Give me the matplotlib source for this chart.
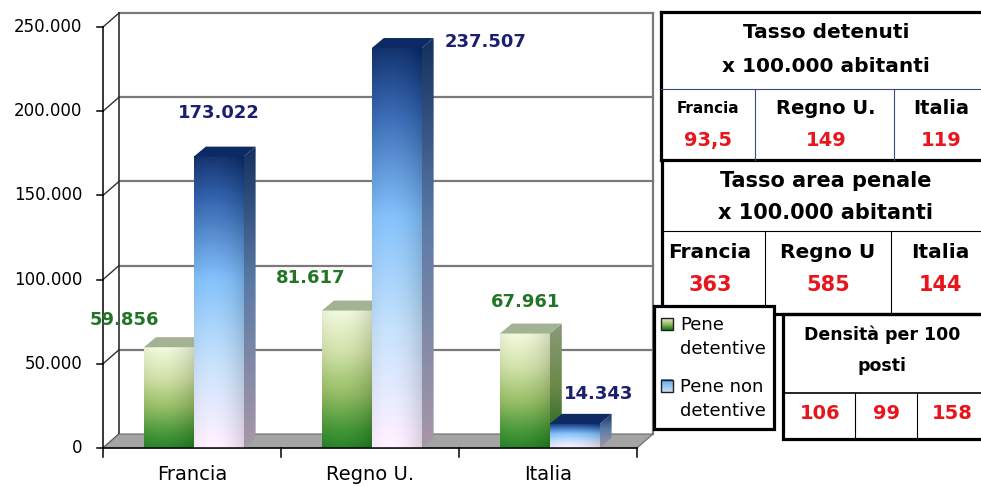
import numpy as np
import matplotlib
matplotlib.use('Agg')
import matplotlib.pyplot as plt
from matplotlib.patches import Polygon, Rectangle
from matplotlib.colors import LinearSegmentedColormap

# ---------------- data ----------------
categories = ['Francia', 'Regno U.', 'Italia']
pene_detentive = [59856, 81617, 67961]
pene_non_detentive = [173022, 237507, 14343]
y_ticks = [0, 50000, 100000, 150000, 200000, 250000]
y_tick_labels = ['0', '50.000', '100.000', '150.000', '200.000', '250.000']
series_names = ['Pene\ndetentive', 'Pene non\ndetentive']

tasso_detenuti_title = ['Tasso detenuti', 'x 100.000 abitanti']
tasso_detenuti_paesi = ['Francia', 'Regno U.', 'Italia']
tasso_detenuti_valori = ['93,5', '149', '119']
tasso_area_title = ['Tasso area penale', 'x 100.000 abitanti']
tasso_area_paesi = ['Francia', 'Regno U', 'Italia']
tasso_area_valori = ['363', '585', '144']
densita_title = ['Densità per 100', 'posti']
densita_valori = ['106', '99', '158']

# label offsets (pixels) relative to the front-top centre of each bar
green_label_off = [(-44, 27), (-36, 33), (1, 32)]
blue_label_off = [(0, 44), (89, 6), (24, 30)]


def fmt(v):
    return f'{v:,}'.replace(',', '.')


W, H = 981, 486
fig = plt.figure(figsize=(W / 100, H / 100), dpi=100)

L, R, B, T = 103, 637, 448, 27
ax = fig.add_axes([L / W, (H - B) / H, (R - L) / W, (B - T) / H])
XMAX, YMAX = 3, 250000
ax.set_xlim(0, XMAX)
ax.set_ylim(0, YMAX)
ax.axis('off')
px_x = XMAX / (R - L)
px_y = YMAX / (B - T)
wdx, wdy = 16 * px_x, 14 * px_y        # wall depth
bdx, bdy = 12 * px_x, 10 * px_y        # bar depth

# floor
ax.add_patch(Polygon([(0, 0), (XMAX, 0), (XMAX + wdx, wdy), (wdx, wdy)],
                     closed=True, fc='#a4a4a4', ec='#6a6a6a', lw=0.8,
                     clip_on=False, zorder=1))
# back wall gridlines and left wall connectors
for v in y_ticks[1:]:
    ax.plot([wdx, XMAX + wdx], [v + wdy] * 2, color='#7a7a7a', lw=1.6,
            clip_on=False, zorder=0.5)
for v in y_ticks:
    ax.plot([0, wdx], [v, v + wdy], color='#303030', lw=1.0,
            clip_on=False, zorder=0.6)
ax.plot([wdx, wdx], [wdy, YMAX + wdy], color='#303030', lw=1.2, clip_on=False, zorder=0.6)
ax.plot([XMAX + wdx, XMAX + wdx], [wdy, YMAX + wdy], color='#7a7a7a', lw=1.6,
        clip_on=False, zorder=0.5)
# front axes
ax.plot([0, 0], [0, YMAX], color='black', lw=1.1, clip_on=False, zorder=5)
ax.plot([0, XMAX], [0, 0], color='black', lw=1.1, clip_on=False, zorder=5)
for v, lab in zip(y_ticks, y_tick_labels):
    ax.plot([-6 * px_x, 0], [v, v], color='black', lw=1.1, clip_on=False, zorder=5)
    ax.annotate(lab, xy=(0, v), xytext=(-21, 0), textcoords='offset pixels',
                ha='right', va='center', fontsize=12, color='black')
for i in range(len(categories) + 1):
    ax.plot([i, i], [0, -9 * px_y], color='black', lw=1.1, clip_on=False, zorder=5)
for i, c in enumerate(categories):
    ax.annotate(c, xy=(i + 0.5, 0), xytext=(0, -26), textcoords='offset pixels',
                ha='center', va='center', fontsize=14, color='black')

green_front = LinearSegmentedColormap.from_list(
    'gf', [(0, '#e8f0d4'), (0.3, '#c8d8a0'), (0.6, '#8db45c'), (0.85, '#3f8f30'), (1, '#1f7a1f')])
green_side = LinearSegmentedColormap.from_list(
    'gs', [(0, '#8a9a78'), (0.5, '#6a8a48'), (1, '#1b5e1b')])
blue_front = LinearSegmentedColormap.from_list(
    'bf', [(0, '#0a2a66'), (0.15, '#2c5ca6'), (0.42, '#7ab8f2'), (0.7, '#bcd8f2'), (1, '#f8e8f8')])
blue_side = LinearSegmentedColormap.from_list(
    'bs', [(0, '#14305e'), (0.45, '#5a7aa6'), (1, '#a898a8')])


def draw_bar(x0, w, v, cf, cs, top_color, z):
    n = 256
    cols = np.linspace(0, 1, 40)
    shade = 1.0 - 0.10 * ((cols - 0.35) / 0.65) ** 2
    img = cf(np.linspace(0, 1, n))[:, None, :3] * shade[None, :, None]
    img = np.clip(img + 0.04 * (1 - ((cols - 0.35) / 0.65) ** 2)[None, :, None], 0, 1)
    ax.imshow(img, extent=(x0, x0 + w, 0, v), aspect='auto', origin='upper',
              interpolation='bilinear', zorder=z, clip_on=False)
    x1 = x0 + w
    side = Polygon([(x1, 0), (x1 + bdx, bdy), (x1 + bdx, v + bdy), (x1, v)],
                   closed=True, fc='none', ec='none', transform=ax.transData)
    ax.add_patch(side)
    simg = cs(np.linspace(0, 1, n))[:, None, :3]
    im = ax.imshow(simg, extent=(x1, x1 + bdx, 0, v + bdy), aspect='auto',
                   origin='upper', interpolation='bilinear', zorder=z)
    im.set_clip_path(side)
    ax.add_patch(Polygon([(x0, v), (x1, v), (x1 + bdx, v + bdy), (x0 + bdx, v + bdy)],
                         closed=True, fc=top_color, ec='none', zorder=z + 0.1,
                         clip_on=False))


bw = 0.28
for i in range(len(categories)):
    gx = i + 0.51 - bw
    draw_bar(gx, bw, pene_detentive[i], green_front, green_side, '#a4b294', 2 + i)
    draw_bar(i + 0.51, bw, pene_non_detentive[i], blue_front, blue_side, '#0d2a64', 2.5 + i)
    ax.annotate(fmt(pene_detentive[i]), xy=(gx + bw / 2, pene_detentive[i]),
                xytext=green_label_off[i], textcoords='offset pixels',
                ha='center', va='center', fontsize=13, fontweight='bold',
                color='#237526', zorder=10)
    ax.annotate(fmt(pene_non_detentive[i]), xy=(i + 0.51 + bw / 2, pene_non_detentive[i]),
                xytext=blue_label_off[i], textcoords='offset pixels',
                ha='center', va='center', fontsize=13, fontweight='bold',
                color='#1b1f70', zorder=10)

ax.set_xlim(0, XMAX)
ax.set_ylim(0, YMAX)

# ---------------- tables (pixel overlay) ----------------
ov = fig.add_axes([0, 0, 1, 1], zorder=3)
ov.set_xlim(0, W)
ov.set_ylim(H, 0)
ov.axis('off')
ov.patch.set_alpha(0)
THICK, THIN = 2.3, 0.8
RED = '#e8161c'


def hl(y, x0, x1, lw, c='black'):
    ov.plot([x0, x1], [y, y], color=c, lw=lw, solid_capstyle='projecting')


def vl(x, y0, y1, lw, c='black'):
    ov.plot([x, x], [y0, y1], color=c, lw=lw, solid_capstyle='projecting')


# table 1
hl(12, 661, 990, THICK)
vl(661, 12, 160, THICK)
hl(160, 661, 990, THICK)
hl(89, 661, 990, THIN, '#3b4a7a')
vl(755, 89, 160, THIN, '#3b4a7a')
vl(894, 89, 160, THIN, '#3b4a7a')
ov.text(826, 33, tasso_detenuti_title[0], ha='center', va='center', fontsize=14.5, fontweight='bold')
ov.text(826, 67, tasso_detenuti_title[1], ha='center', va='center', fontsize=14.5, fontweight='bold')
for xc, name, val, fs in zip([708, 826, 941], tasso_detenuti_paesi, tasso_detenuti_valori,
                             [11, 14, 14]):
    ov.text(xc, 108, name, ha='center', va='center', fontsize=fs, fontweight='bold')
    ov.text(xc, 140, val, ha='center', va='center', fontsize=14, fontweight='bold', color=RED)

# table 2
vl(662, 160, 313, THICK)
hl(313.5, 662, 990, THICK)
hl(231, 662, 990, THIN)
vl(765, 231, 313, THIN)
vl(891, 231, 313, THIN)
ov.text(826, 181, tasso_area_title[0], ha='center', va='center', fontsize=15, fontweight='bold')
ov.text(826, 213, tasso_area_title[1], ha='center', va='center', fontsize=15, fontweight='bold')
for xc, name, val in zip([710, 828, 940], tasso_area_paesi, tasso_area_valori):
    ov.text(xc, 252, name, ha='center', va='center', fontsize=14.5, fontweight='bold')
    ov.text(xc, 285, val, ha='center', va='center', fontsize=15, fontweight='bold', color=RED)

# table 3
ov.add_patch(Rectangle((783, 314), 220, 125, fc='white', ec='black', lw=THICK))
hl(393, 783, 990, 1.2)
vl(855, 393, 439, THIN)
vl(917, 393, 439, THIN)
ov.text(882, 335, densita_title[0], ha='center', va='center', fontsize=12.5, fontweight='bold')
ov.text(882, 366, densita_title[1], ha='center', va='center', fontsize=12.5, fontweight='bold')
for xc, val in zip([820, 887, 952], densita_valori):
    ov.text(xc, 413, val, ha='center', va='center', fontsize=14, fontweight='bold', color=RED)

# legend box
ov.add_patch(Rectangle((654, 306), 120, 123, fc='white', ec='black', lw=THICK, zorder=4))
icon_imgs = [green_front(np.linspace(0.1, 1, 16))[:, None, :3] * np.ones((1, 16, 1)),
             blue_front(np.linspace(0.3, 0.75, 16))[:, None, :3] * np.ones((1, 16, 1))]
for k, (yi, name) in enumerate(zip([318, 380], series_names)):
    ov.imshow(icon_imgs[k], extent=(661, 673, yi + 12, yi), aspect='auto', zorder=5)
    ov.add_patch(Rectangle((661, yi), 12, 12, fc='none', ec='#202020', lw=1, zorder=6))
    l1, l2 = name.split('\n')
    ov.text(680, yi + 7, l1, ha='left', va='center', fontsize=13, zorder=6)
    ov.text(680, yi + 31, l2, ha='left', va='center', fontsize=13, zorder=6)
ov.set_xlim(0, W)
ov.set_ylim(H, 0)

fig.savefig('out.png', dpi=100)
